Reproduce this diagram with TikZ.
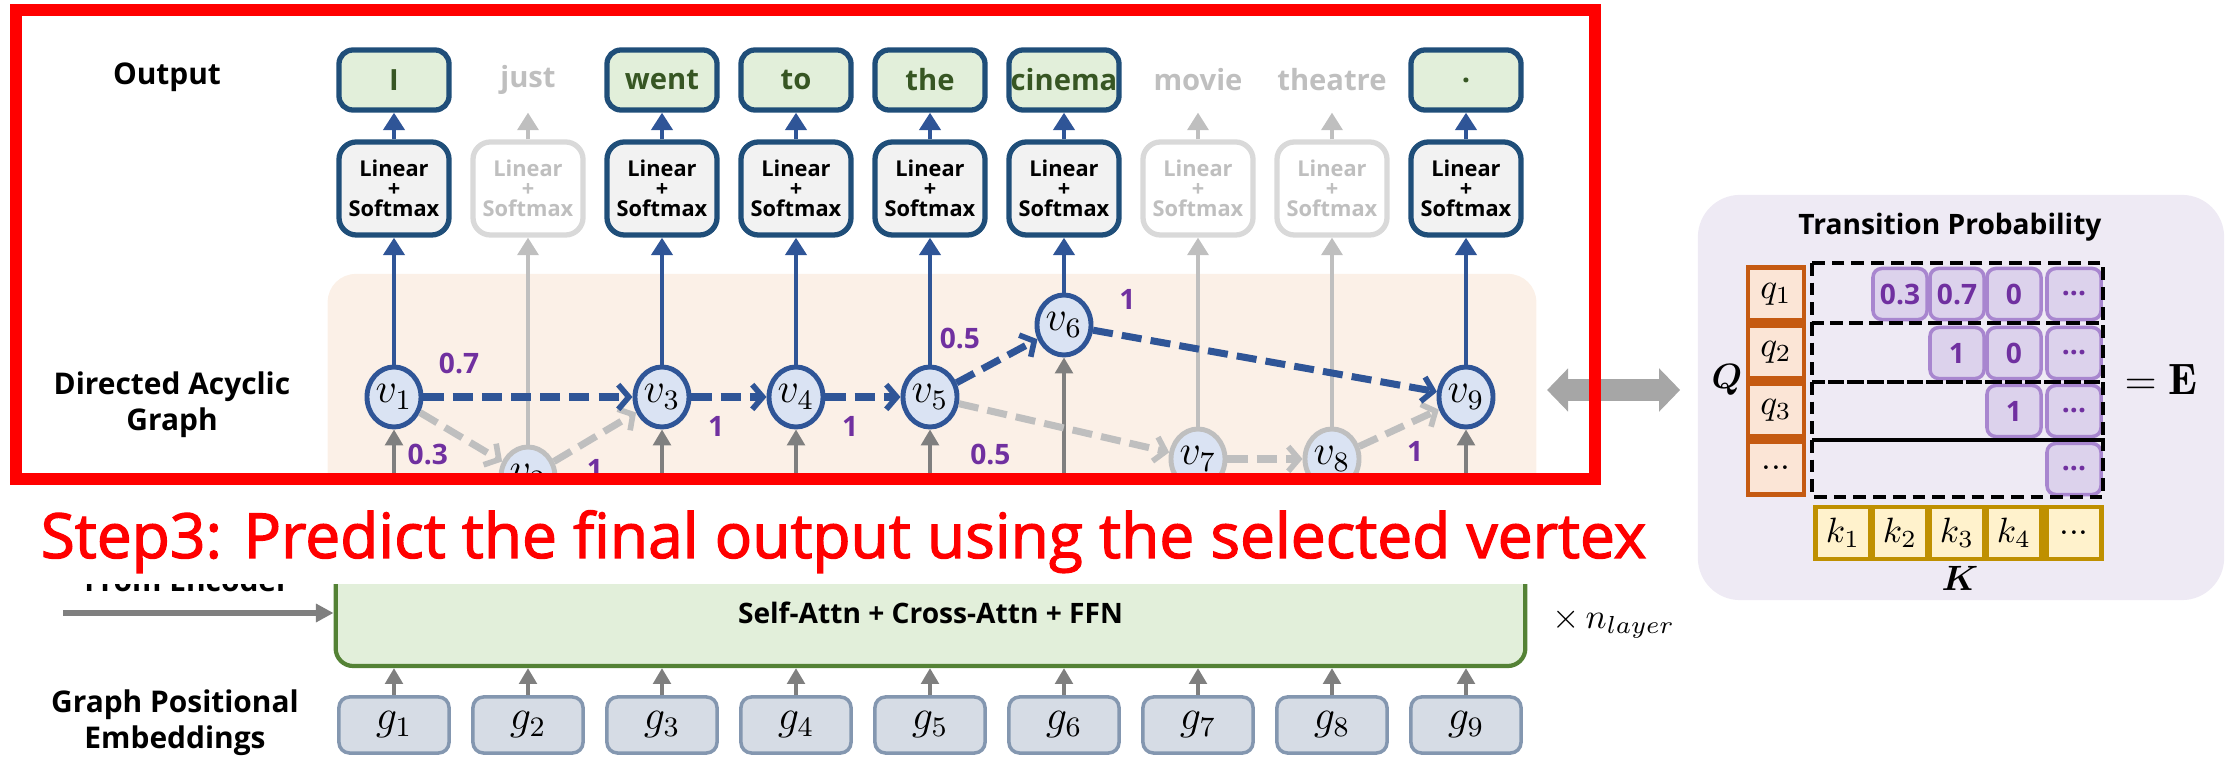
\documentclass[tikz,border=0pt]{standalone}
\usepackage{fontspec}
\setsansfont{Open Sans}
\newfontfamily\stepfont{Open Sans}[FakeBold=2]
\usepackage{amsmath}
\usepackage{bm}
\usetikzlibrary{positioning, shapes.geometric, arrows.meta, calc}
\usepackage{xcolor}
\definecolor{dagblue}{HTML}{2F5597}
\definecolor{boxnavy}{HTML}{1F4E79}
\definecolor{nodefill}{HTML}{DAE3F3}
\definecolor{fadegray}{HTML}{BFBFBF}
\definecolor{fadeline}{HTML}{D9D9D9}
\definecolor{midgray}{HTML}{7F7F7F}
\definecolor{linfill}{HTML}{F2F2F2}
\definecolor{outfill}{HTML}{E2EFDA}
\definecolor{outtext}{HTML}{375623}
\definecolor{decline}{HTML}{548235}
\definecolor{probpurple}{HTML}{7030A0}
\definecolor{dagbg}{HTML}{FBF0E7}
\definecolor{panelbg}{HTML}{EEEAF4}
\definecolor{cellfill}{HTML}{DCD2EC}
\definecolor{cellline}{HTML}{A886CF}
\definecolor{qfill}{HTML}{FBE5D6}
\definecolor{qline}{HTML}{C55A11}
\definecolor{kfill}{HTML}{FFF2CC}
\definecolor{kline}{HTML}{BF9000}
\definecolor{gfill}{HTML}{D6DCE5}
\definecolor{gline}{HTML}{8497B0}
\definecolor{arrowgray}{HTML}{A6A6A6}
\definecolor{stepred}{HTML}{FF0000}

\begin{document}
\begin{tikzpicture}[x=0.01cm, y=-0.01cm,
    side/.style={font=\sffamily\bfseries\fontsize{8.5}{10.2}\selectfont, align=center},
    tok/.style={draw=boxnavy, line width=1.5pt, fill=outfill, rounded corners=4pt, inner sep=0pt,
                minimum width=1.1cm, minimum height=0.6cm, text=outtext,
                font=\sffamily\bfseries\fontsize{8.3}{9}\selectfont},
    faintok/.style={tok, draw=none, fill=none, text=fadegray},
    lin/.style={draw=boxnavy, line width=1.5pt, fill=linfill, rounded corners=5pt, inner sep=0pt,
                minimum width=1.1cm, minimum height=0.93cm, align=center,
                font=\sffamily\bfseries\fontsize{6.2}{5.7}\selectfont},
    faintlin/.style={lin, draw=fadeline, fill=white, text=fadegray},
    vtx/.style={ellipse, draw=dagblue, line width=1.4pt, fill=nodefill, inner sep=0pt,
                minimum width=0.54cm, minimum height=0.6cm, font=\fontsize{12}{12}\selectfont},
    faintvtx/.style={vtx, draw=fadegray},
    sel/.style={dagblue, line width=2pt, dash pattern=on 5.7pt off 2.6pt,
                -{Straight Barb[length=3pt, width=7pt, line width=1.6pt]}},
    rej/.style={sel, fadegray},
    prob/.style={text=probpurple, inner sep=1pt, font=\sffamily\bfseries\fontsize{8}{8}\selectfont},
    up/.style={dagblue, line width=1.3pt, -{Triangle[length=5pt, width=6pt]}},
    faintup/.style={fadegray, line width=1pt, -{Triangle[length=5pt, width=6pt]}},
    feed/.style={midgray, line width=1pt, -{Triangle[length=4.5pt, width=5pt]}},
    gbox/.style={draw=gline, line width=1pt, fill=gfill, rounded corners=3pt, inner sep=0pt,
                 minimum width=1.1cm, minimum height=0.56cm, font=\fontsize{11.5}{11.5}\selectfont},
    decbox/.style={draw=decline, line width=1.2pt, fill=outfill, rounded corners=5pt,
                   minimum width=11.89cm, minimum height=1.06cm,
                   font=\sffamily\bfseries\fontsize{8}{9}\selectfont},
    qbox/.style={draw=qline, line width=1.2pt, fill=qfill, inner sep=0pt,
                 minimum width=0.56cm, minimum height=0.53cm, font=\fontsize{10}{10}\selectfont},
    kbox/.style={draw=kline, line width=1.2pt, fill=kfill, inner sep=0pt,
                 minimum width=0.55cm, minimum height=0.52cm, font=\fontsize{10}{10}\selectfont},
    cell/.style={draw=cellline, line width=1pt, fill=cellfill, rounded corners=2.5pt, inner sep=0pt,
                 minimum width=0.54cm, minimum height=0.51cm, text=probpurple,
                 font=\sffamily\bfseries\fontsize{8}{8}\selectfont},
    rowbox/.style={draw=black, line width=1pt, dash pattern=on 3.6pt off 2pt}]
  \useasboundingbox (0,0) rectangle (2226,761);

  % backgrounds
  \node[fill=dagbg, rounded corners=8pt, minimum width=12.08cm, minimum height=2.66cm] (dagarea) at (932,407) {};
  \node[fill=panelbg, rounded corners=12pt, minimum width=5.26cm, minimum height=4.05cm] (panel) at (1961,397.5) {};

  % left labels
  \node[side] (lout) at (167,77) {Output};
  \node[side] (ldag) at (172,405) {Directed Acyclic\\Graph};
  \node[side, anchor=base] (lenc) at (187,592) {From Encoder};
  \node[side] (lpos) at (175,723) {Graph Positional\\Embeddings};

  % output tokens
  \node[tok] (o1) at (394,80) {I};
  \node[faintok] (o2) at (528,80) {just};
  \node[tok] (o3) at (662,80) {went};
  \node[tok] (o4) at (796,80) {to};
  \node[tok] (o5) at (930,80) {the};
  \node[tok] (o6) at (1064,80) {cinema};
  \node[faintok] (o7) at (1198,80) {movie};
  \node[faintok] (o8) at (1332,80) {theatre};
  \node[tok] (o9) at (1466,80) {.};

  % linear + softmax heads
  \node[lin] (h1) at (394,188.5) {Linear\\+\\Softmax};
  \node[faintlin] (h2) at (528,188.5) {Linear\\+\\Softmax};
  \node[lin] (h3) at (662,188.5) {Linear\\+\\Softmax};
  \node[lin] (h4) at (796,188.5) {Linear\\+\\Softmax};
  \node[lin] (h5) at (930,188.5) {Linear\\+\\Softmax};
  \node[lin] (h6) at (1064,188.5) {Linear\\+\\Softmax};
  \node[faintlin] (h7) at (1198,188.5) {Linear\\+\\Softmax};
  \node[faintlin] (h8) at (1332,188.5) {Linear\\+\\Softmax};
  \node[lin] (h9) at (1466,188.5) {Linear\\+\\Softmax};

  % decoder and positional embeddings
  \node[decbox] (dec) at (930.5,613) {Self-Attn + Cross-Attn + FFN};
  \node[anchor=west, font=\fontsize{10}{10}\selectfont] (nlay) at (1540,623) {$\times\, n_{layer}$};
  \node[gbox] (g1) at (394,725) {$g_1$};
  \node[gbox] (g2) at (528,725) {$g_2$};
  \node[gbox] (g3) at (662,725) {$g_3$};
  \node[gbox] (g4) at (796,725) {$g_4$};
  \node[gbox] (g5) at (930,725) {$g_5$};
  \node[gbox] (g6) at (1064,725) {$g_6$};
  \node[gbox] (g7) at (1198,725) {$g_7$};
  \node[gbox] (g8) at (1332,725) {$g_8$};
  \node[gbox] (g9) at (1466,725) {$g_9$};
  \coordinate (enc) at (63,613);
  \draw[feed, line width=1.7pt, -{Triangle[length=5pt, width=5pt]}] (enc) -- (dec.west);

  % graph vertices
  \node[vtx] (v1) at (394,397) {$v_1$};
  \node[faintvtx] (v2) at (528,477) {$v_2$};
  \node[vtx] (v3) at (662,397) {$v_3$};
  \node[vtx] (v4) at (796,397) {$v_4$};
  \node[vtx] (v5) at (930,397) {$v_5$};
  \node[vtx] (v6) at (1064,325) {$v_6$};
  \node[faintvtx] (v7) at (1198,459) {$v_7$};
  \node[faintvtx] (v8) at (1332,459) {$v_8$};
  \node[vtx] (v9) at (1466,397) {$v_9$};

  % columns
  \draw[feed] (v1 |- dec.north) -- (v1);
  \draw[feed] (v2 |- dec.north) -- (v2);
  \draw[feed] (v3 |- dec.north) -- (v3);
  \draw[feed] (v4 |- dec.north) -- (v4);
  \draw[feed] (v5 |- dec.north) -- (v5);
  \draw[feed] (v6 |- dec.north) -- (v6);
  \draw[feed] (v7 |- dec.north) -- (v7);
  \draw[feed] (v8 |- dec.north) -- (v8);
  \draw[feed] (v9 |- dec.north) -- (v9);
  \draw[up] (v1) -- (h1);
  \draw[faintup] (v2) -- (h2);
  \draw[up] (v3) -- (h3);
  \draw[up] (v4) -- (h4);
  \draw[up] (v5) -- (h5);
  \draw[up] (v6) -- (h6);
  \draw[faintup] (v7) -- (h7);
  \draw[faintup] (v8) -- (h8);
  \draw[up] (v9) -- (h9);
  \draw[up] (h1) -- (o1);
  \draw[faintup] (h2) -- (o2);
  \draw[up] (h3) -- (o3);
  \draw[up] (h4) -- (o4);
  \draw[up] (h5) -- (o5);
  \draw[up] (h6) -- (o6);
  \draw[faintup] (h7) -- (o7);
  \draw[faintup] (h8) -- (o8);
  \draw[up] (h9) -- (o9);
  \draw[feed] (g1) -- (g1 |- dec.south);
  \draw[feed] (g2) -- (g2 |- dec.south);
  \draw[feed] (g3) -- (g3 |- dec.south);
  \draw[feed] (g4) -- (g4 |- dec.south);
  \draw[feed] (g5) -- (g5 |- dec.south);
  \draw[feed] (g6) -- (g6 |- dec.south);
  \draw[feed] (g7) -- (g7 |- dec.south);
  \draw[feed] (g8) -- (g8 |- dec.south);
  \draw[feed] (g9) -- (g9 |- dec.south);

  % transitions
  \draw[rej] (v1) -- (v2) node[prob, pos=0.45, below left=0.3mm and 0.2mm] {0.3};
  \draw[rej] (v2) -- (v3) node[prob, midway, below=1.5mm] {1};
  \draw[rej] (v5) -- (v7) node[prob, pos=0.15, below=2.6mm] {0.5};
  \draw[rej] (v7) -- (v8) node[prob, pos=0.35, below=1mm] {1};
  \draw[rej] (v8) -- (v9) node[prob, pos=0.45, below right=0.5mm and 0.5mm] {1};
  \draw[sel] (v1) -- (v3) node[prob, pos=0.17, above=1.6mm] {0.7};
  \draw[sel] (v3) -- (v4) node[prob, pos=0.33, below=1.2mm] {1};
  \draw[sel] (v4) -- (v5) node[prob, pos=0.33, below=1.2mm] {1};
  \draw[sel] (v5) -- (v6) node[prob, midway, above left=0.5mm and 1mm] {0.5};
  \draw[sel] (v6) -- (v9) node[prob, pos=0.1, above=2mm] {1};

  % transition matrix
  \draw[arrowgray, line width=0.22cm, {Triangle[length=0.21cm, width=0.42cm]}-{Triangle[length=0.21cm, width=0.42cm]}]
    ($(dagarea.east)+(10,-17)$) -- ($(panel.west)+(-17,-7.5)$);
  \node[font=\sffamily\bfseries\fontsize{8}{8}\selectfont] (tptitle) at (1950,227) {Transition Probability};
  \node[qbox] (q1) at (1776,294) {$q_1$};
  \node[qbox] (q2) at (1776,352) {$q_2$};
  \node[qbox] (q3) at (1776,410) {$q_3$};
  \node[qbox] (q4) at (1776,468) {...};
  \node[font=\fontsize{10}{10}\selectfont] (qlab) at (1727,380) {$\bm{Q}$};
  \node[cell] (c12) at (1900,294) {0.3};
  \node[cell] (c13) at (1957,294) {0.7};
  \node[cell] (c14) at (2014,294) {0};
  \node[cell] (c15) at (2074,294) {...};
  \node[cell] (c23) at (1957,353) {1};
  \node[cell] (c24) at (2014,353) {0};
  \node[cell] (c25) at (2074,353) {...};
  \node[cell] (c34) at (2014,411) {1};
  \node[cell] (c35) at (2074,411) {...};
  \node[cell] (c45) at (2074,469) {...};
  \draw[rowbox] (1812,263) rectangle (2103,323);
  \draw[rowbox] (1812,323) rectangle (2103,382);
  \draw[rowbox] (1812,382) rectangle (2103,440);
  \draw[rowbox] (1812,440) rectangle (2103,497);
  \node[kbox] (k1) at (1843,533) {$k_1$};
  \node[kbox] (k2) at (1900,533) {$k_2$};
  \node[kbox] (k3) at (1957,533) {$k_3$};
  \node[kbox] (k4) at (2014,533) {$k_4$};
  \node[kbox] (k5) at (2074,533) {...};
  \node[font=\fontsize{10}{10}\selectfont] (klab) at (1960,578) {$\bm{K}$};
  \node[font=\fontsize{12.5}{12.5}\selectfont] (eqE) at (2161,380) {$=\mathbf{E}$};

  % step overlay
  \fill[white] (0,485) rectangle (1690,584);
  \draw[stepred, line width=0.12cm] (16,10) rectangle (1595,479);
  \node[anchor=base west, inner sep=0pt, text=stepred, font=\stepfont\fontsize{17.7}{17.7}\selectfont] (step) at (40,558)
    {Step3: Predict the final output using the selected vertex};
\end{tikzpicture}
\end{document}
